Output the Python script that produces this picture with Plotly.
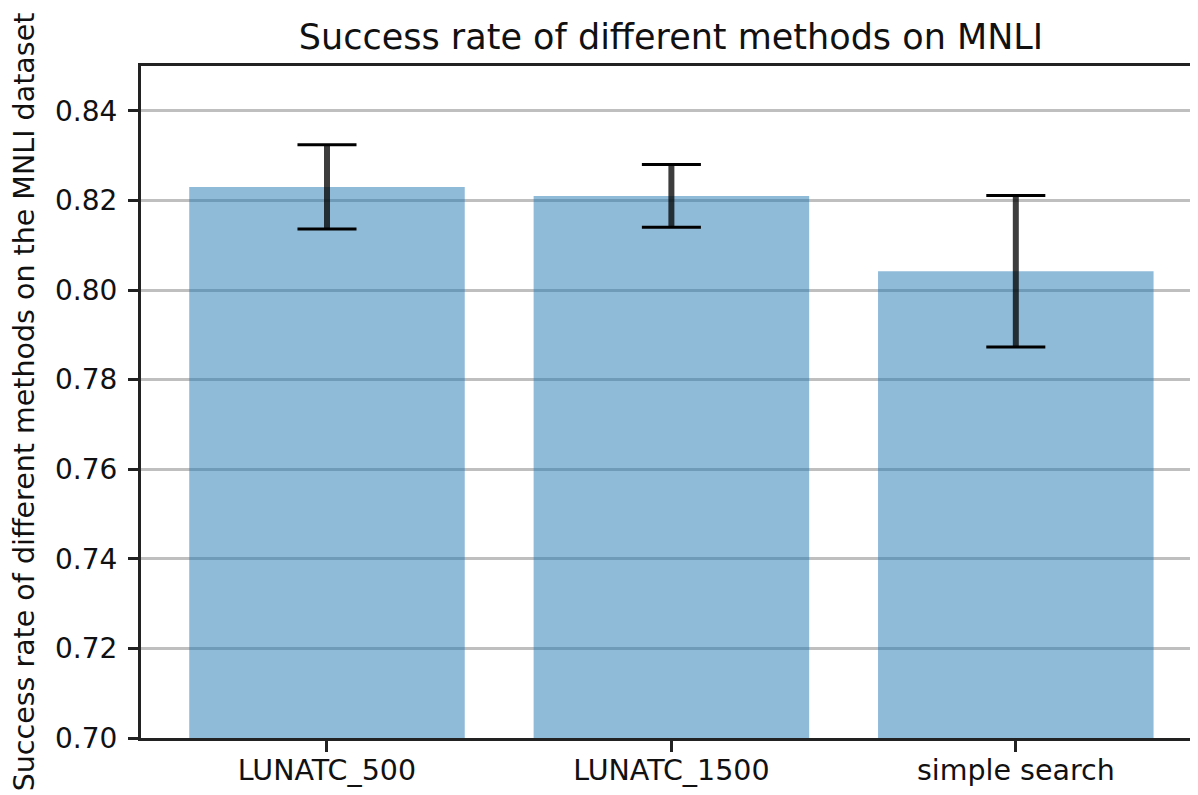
import plotly.graph_objects as go

categories = ["LUNATC_500", "LUNATC_1500", "simple search"]
success_rate = [0.8230, 0.8210, 0.8042]
error = [0.0094, 0.0070, 0.0169]
y_ticks = [0.70, 0.72, 0.74, 0.76, 0.78, 0.80, 0.82, 0.84]

x_pos = list(range(len(categories)))
cap_half = 0.0857

# the page body has an 8px margin, so the figure is sized/offset to compensate
W, H, OFF = 1190, 787, 8

fig = go.Figure()
fig.add_trace(go.Bar(
    x=x_pos, y=success_rate, width=0.8,
    marker=dict(color="rgba(31,119,180,0.5)", line=dict(width=0)),
    error_y=dict(type="data", array=error, visible=True,
                 thickness=6, width=0, color="rgba(0,0,0,0.76)"),
    showlegend=False,
))

cap_x, cap_y = [], []
for xi, v, e in zip(x_pos, success_rate, error):
    for yy in (v + e, v - e):
        cap_x += [xi - cap_half, xi + cap_half, None]
        cap_y += [yy, yy, None]
fig.add_trace(go.Scatter(x=cap_x, y=cap_y, mode="lines",
                         line=dict(color="black", width=3),
                         showlegend=False, hoverinfo="skip"))

fig.update_layout(
    width=W, height=H, autosize=False,
    margin=dict(l=141 - OFF, r=0, t=66 - OFF, b=57, pad=0),
    plot_bgcolor="white", paper_bgcolor="white",
    font=dict(family="DejaVu Sans", size=28, color="#111"),
    title=dict(text="Success rate of different methods on MNLI",
               x=(671 - OFF) / W, xanchor="center",
               y=1 - (37 - OFF) / H, yanchor="middle",
               font=dict(size=35, color="#111")),
)
fig.update_xaxes(
    range=[-0.54, 2.529], automargin=False,
    tickmode="array", tickvals=x_pos, ticktext=categories,
    tickfont=dict(size=28.5),
    showgrid=False, zeroline=False,
    showline=True, linecolor="#222", linewidth=3, mirror=True,
    ticks="outside", ticklen=11, tickwidth=3, tickcolor="#222",
    ticklabelstandoff=-6,
)
fig.update_yaxes(
    range=[0.70, 0.85], automargin=False, layer="above traces",
    tickmode="array", tickvals=y_ticks, ticktext=[f"{t:.2f}" for t in y_ticks],
    showgrid=True, gridcolor="#bfbfbf", gridwidth=3, zeroline=False,
    showline=True, linecolor="#222", linewidth=3, mirror=False,
    ticks="outside", ticklen=10, tickwidth=3, tickcolor="#222",
    ticklabelstandoff=5,
    title=dict(text="Success rate of different methods on the MNLI dataset",
               standoff=14, font=dict(size=28.5)),
)

fig.write_html("out.html")
